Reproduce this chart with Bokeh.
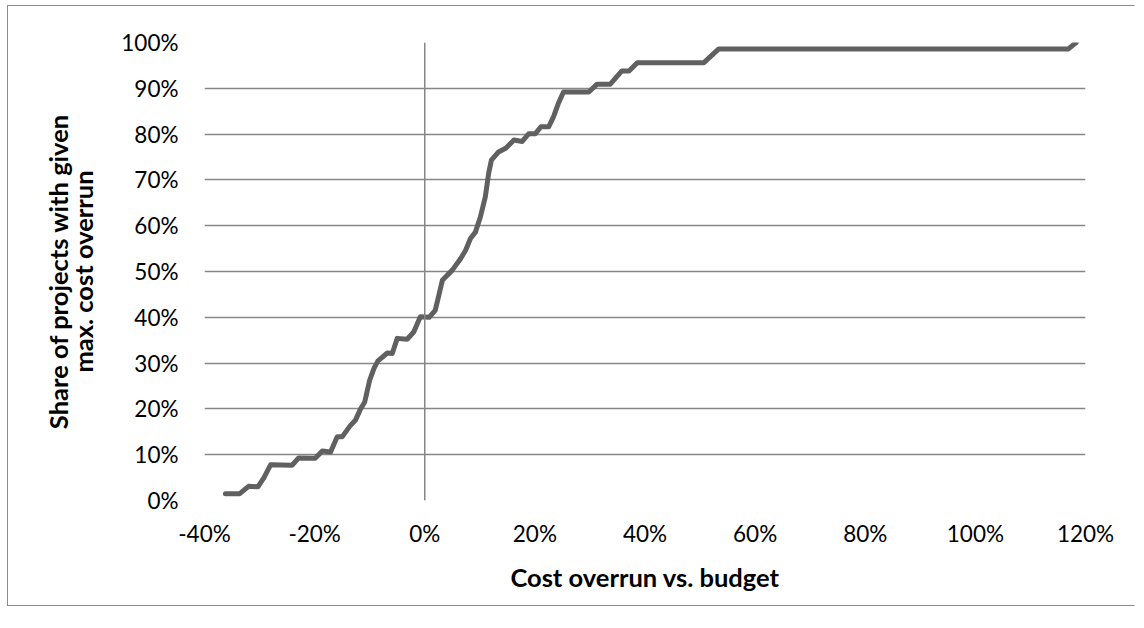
from bokeh.plotting import figure
from bokeh.models import FixedTicker, PrintfTickFormatter, Span, Range1d
from bokeh.embed import file_html
from bokeh.resources import INLINE

# Cost overrun vs. budget (%), cumulative share of projects (%)
cost_overrun_pct = [-36.2, -33.6, -32.0, -30.3, -29.2, -28.0, -24.1, -22.9, -19.9, -18.6,
                    -17.1, -15.9, -15.0, -13.5, -12.6, -11.7, -10.9, -10.0, -9.2, -8.5,
                    -6.8, -5.9, -5.0, -3.2, -2.0, -0.8, 0.8, 1.9, 2.6, 3.2,
                    5.0, 6.5, 7.4, 8.3, 9.2, 10.1, 11.0, 11.6, 12.1, 13.4,
                    14.7, 16.2, 17.7, 18.9, 20.1, 21.1, 22.5, 23.4, 24.3, 25.2,
                    29.8, 31.3, 33.7, 35.8, 37.1, 38.6, 50.7, 53.4, 116.9, 118.3]
share_pct = [1.5, 1.5, 3.1, 3.0, 5.0, 7.8, 7.7, 9.3, 9.2, 10.8,
             10.6, 13.9, 13.9, 16.4, 17.5, 19.9, 21.5, 26.3, 28.9, 30.5,
             32.2, 32.1, 35.4, 35.2, 36.8, 40.1, 40.0, 41.5, 45.0, 48.1,
             50.3, 52.8, 54.6, 57.2, 58.6, 61.9, 66.3, 71.4, 74.3, 76.1,
             76.9, 78.7, 78.4, 80.1, 80.1, 81.6, 81.6, 83.8, 86.8, 89.2,
             89.2, 90.9, 90.9, 93.8, 93.8, 95.6, 95.6, 98.6, 98.6, 100.0]

x_ticks = [-40, -20, 0, 20, 40, 60, 80, 100, 120]
y_ticks = [0, 10, 20, 30, 40, 50, 60, 70, 80, 90, 100]

x_title = "Cost overrun vs. budget"
y_title = "Share of projects with given\nmax. cost overrun"

FONT = "Lato"
FS = "22.5px"
TFS = "25.5px"
GRID = "#868686"

p = figure(width=1128, height=601, x_range=Range1d(-40, 120), y_range=Range1d(0, 100),
           output_backend="svg", toolbar_location=None,
           min_border_left=196, min_border_right=51, min_border_top=36, min_border_bottom=107)
p.styles = {"margin-left": "7px", "margin-top": "5px",
            "border-left": "1px solid #8c8c8c", "border-top": "1px solid #8c8c8c",
            "border-bottom": "1px solid #8c8c8c", "border-right": "1px solid white"}
p.outline_line_color = None
p.background_fill_color = "white"
p.border_fill_color = None

p.xgrid.grid_line_color = None
p.ygrid.ticker = FixedTicker(ticks=y_ticks)
p.ygrid.grid_line_color = GRID
p.ygrid.grid_line_width = 1.5

p.add_layout(Span(location=0, dimension="height", line_color=GRID, line_width=1.5))

p.line(cost_overrun_pct, share_pct, line_color="#606060", line_width=5,
       line_join="round", line_cap="round")

for ax, ticks in ((p.xaxis, x_ticks), (p.yaxis, y_ticks)):
    ax.ticker = FixedTicker(ticks=ticks)
    ax.formatter = PrintfTickFormatter(format="%d%%")
    ax.axis_line_color = None
    ax.major_tick_line_color = None
    ax.minor_tick_line_color = None
    ax.major_label_text_font = FONT
    ax.major_label_text_font_size = FS
    ax.major_label_text_color = "black"
    ax.axis_label_text_font = FONT
    ax.axis_label_text_font_size = TFS
    ax.axis_label_text_font_style = "bold"
    ax.axis_label_text_color = "black"

p.yaxis.axis_label_text_line_height = 0.85
p.xaxis.axis_label = x_title
p.yaxis.axis_label = y_title
p.xaxis.major_label_standoff = 13
p.xaxis.axis_label_standoff = 12
p.yaxis.major_label_standoff = 20
p.yaxis.axis_label_standoff = 20

open("out.html", "w").write(file_html(p, INLINE))
